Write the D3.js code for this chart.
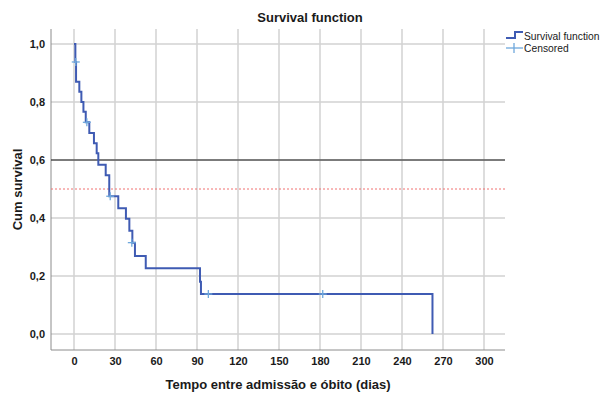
<!DOCTYPE html>
<html>
<head>
<meta charset="utf-8">
<script src="https://cdn.jsdelivr.net/npm/d3@7"></script>
<style>
  body { margin: 0; background: #fff; }
  text { font-family: "Liberation Sans", Arial, sans-serif; }
</style>
</head>
<body>
<div id="chart"></div>
<script>
// Kaplan-Meier steps: time (days) and survival after the drop
const stepTimes = [0, 1, 1.5, 3.9, 5.4, 6.9, 8.6, 11.2, 14.6, 16.6, 17.8, 23.2, 25.8, 32.4, 38, 40.5, 42.7, 44.6, 52.5, 92.2, 92.9, 262.3];
const stepSurvival = [1, 0.938, 0.870, 0.835, 0.800, 0.766, 0.730, 0.693, 0.658, 0.623, 0.584, 0.547, 0.475, 0.434, 0.397, 0.356, 0.315, 0.269, 0.227, 0.180, 0.138, 0];
// censored observations
const censorTimes = [1.3, 9.4, 26.5, 42.3, 98.3, 182];
const censorSurvival = [0.938, 0.730, 0.475, 0.315, 0.138, 0.138];

const xTicks = [0, 30, 60, 90, 120, 150, 180, 210, 240, 270, 300];
const yTicks = [0, 0.2, 0.4, 0.6, 0.8, 1.0];
const refLines = [{ value: 0.6, kind: 'solid' }, { value: 0.5, kind: 'dotted' }];

const W = 603, H = 393;
const plot = { left: 51, right: 505, top: 29, bottom: 350 };

const svg = d3.select('#chart').append('svg')
  .attr('width', W).attr('height', H);

const x = d3.scaleLinear().domain([0, 300]).range([74, 484]);
const y = d3.scaleLinear().domain([0, 1]).range([334, 44]);

// grid
svg.append('g').selectAll('line').data(xTicks).enter().append('line')
  .attr('x1', d => x(d)).attr('x2', d => x(d))
  .attr('y1', plot.top).attr('y2', plot.bottom)
  .attr('stroke', '#d2d2d2').attr('stroke-width', 1.5);
svg.append('g').selectAll('line').data(yTicks).enter().append('line')
  .attr('x1', plot.left).attr('x2', plot.right)
  .attr('y1', d => y(d)).attr('y2', d => y(d))
  .attr('stroke', '#d2d2d2').attr('stroke-width', 1.5);

// axes
const xAxis = svg.append('g')
  .attr('transform', `translate(0,${plot.bottom})`)
  .call(d3.axisBottom(x).tickValues(xTicks).tickSize(0).tickPadding(7));
xAxis.select('.domain').attr('d', `M${plot.left},0H${plot.right}`).attr('stroke', '#8c8c8c');
const yAxis = svg.append('g')
  .attr('transform', `translate(${plot.left},0)`)
  .call(d3.axisLeft(y).tickValues(yTicks).tickSize(0).tickPadding(6)
    .tickFormat(d => d3.format('.1f')(d).replace('.', ',')));
yAxis.select('.domain').attr('d', `M0,${plot.top}V${plot.bottom}`).attr('stroke', '#8c8c8c');
svg.selectAll('.tick text')
  .attr('font-family', '"Liberation Sans", Arial, sans-serif')
  .attr('font-size', 11).attr('font-weight', 'bold').attr('fill', '#1a1a1a');

// reference lines
svg.append('g').selectAll('line').data(refLines).enter().append('line')
  .attr('x1', plot.left).attr('x2', plot.right)
  .attr('y1', d => y(d.value)).attr('y2', d => y(d.value))
  .attr('stroke', d => d.kind === 'solid' ? '#1a1a1a' : '#f07070')
  .attr('stroke-width', 1)
  .attr('stroke-dasharray', d => d.kind === 'solid' ? null : '2,2');

// survival curve
const steps = stepTimes.map((t, i) => [t, stepSurvival[i]]);
const line = d3.line().x(d => x(d[0])).y(d => y(d[1])).curve(d3.curveStepAfter);
svg.append('path')
  .datum(steps)
  .attr('d', line)
  .attr('fill', 'none')
  .attr('stroke', '#3f5bb3')
  .attr('stroke-width', 2);

// censored marks
const cens = svg.append('g').selectAll('g').data(censorTimes).enter().append('g')
  .attr('transform', (d, i) => `translate(${x(d)},${y(censorSurvival[i])})`);
cens.append('line').attr('x1', -4).attr('x2', 4).attr('stroke', '#6fa8dc').attr('stroke-width', 1.3);
cens.append('line').attr('y1', -4).attr('y2', 4).attr('stroke', '#6fa8dc').attr('stroke-width', 1.3);

// titles
svg.append('text').attr('x', 310).attr('y', 22).attr('text-anchor', 'middle')
  .attr('font-size', 13).attr('font-weight', 'bold').attr('fill', '#1a1a1a')
  .text('Survival function');
svg.append('text').attr('x', 278).attr('y', 389).attr('text-anchor', 'middle')
  .attr('font-size', 13).attr('font-weight', 'bold').attr('fill', '#1a1a1a')
  .text('Tempo entre admissão e óbito (dias)');
svg.append('text')
  .attr('transform', `translate(22,${(plot.top + plot.bottom) / 2}) rotate(-90)`)
  .attr('text-anchor', 'middle')
  .attr('font-size', 13).attr('font-weight', 'bold').attr('fill', '#1a1a1a')
  .text('Cum survival');

// legend
const legend = svg.append('g').attr('transform', 'translate(506,0)');
legend.append('path')
  .attr('d', 'M0,38H9V32H17')
  .attr('fill', 'none').attr('stroke', '#3f5bb3').attr('stroke-width', 2);
legend.append('text').attr('x', 18).attr('y', 40).attr('font-size', 10.3).attr('fill', '#1a1a1a')
  .text('Survival function');
legend.append('line').attr('x1', 0).attr('x2', 17).attr('y1', 48).attr('y2', 48)
  .attr('stroke', '#6fa8dc').attr('stroke-width', 1.3);
legend.append('line').attr('x1', 8).attr('x2', 8).attr('y1', 43).attr('y2', 53)
  .attr('stroke', '#6fa8dc').attr('stroke-width', 1.3);
legend.append('text').attr('x', 18).attr('y', 52).attr('font-size', 10.3).attr('fill', '#1a1a1a')
  .text('Censored');
</script>
</body>
</html>
